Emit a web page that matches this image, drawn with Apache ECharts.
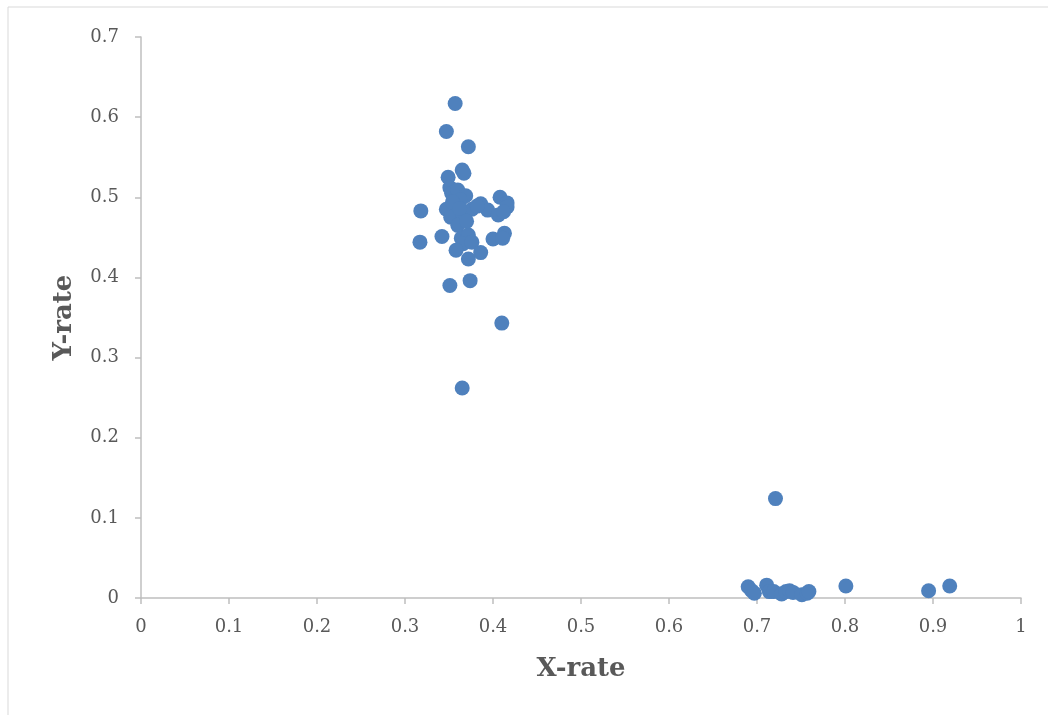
<!DOCTYPE html>
<html>
<head>
<meta charset="utf-8">
<script src="https://cdn.jsdelivr.net/npm/echarts@6/dist/echarts.min.js"></script>
<style>
  html, body { margin: 0; padding: 0; background: #fff; }
  #chart { width: 1048px; height: 715px; }
</style>
</head>
<body>
<div id="chart"></div>
<script>
// upper cluster + lower cluster
const xRate = [
  0.357, 0.347, 0.372, 0.365, 0.367, 0.349, 0.318, 0.317, 0.342, 0.347,
  0.351, 0.353, 0.360, 0.369, 0.363, 0.358, 0.352, 0.366, 0.376, 0.386,
  0.394, 0.408, 0.406, 0.416, 0.416, 0.412, 0.360, 0.364, 0.372, 0.366,
  0.376, 0.358, 0.372, 0.386, 0.400, 0.413, 0.411, 0.351, 0.374, 0.410,
  0.365, 0.354, 0.362, 0.370, 0.382,
  0.721, 0.690, 0.694, 0.697, 0.711, 0.714, 0.719, 0.728, 0.733, 0.737,
  0.741, 0.751, 0.757, 0.759, 0.801, 0.895, 0.919
]
const yRate = [
  0.617, 0.582, 0.563, 0.534, 0.530, 0.525, 0.483, 0.444, 0.451, 0.485,
  0.512, 0.505, 0.509, 0.502, 0.497, 0.478, 0.475, 0.478, 0.485, 0.492,
  0.484, 0.500, 0.478, 0.493, 0.488, 0.482, 0.465, 0.449, 0.453, 0.442,
  0.444, 0.434, 0.423, 0.431, 0.448, 0.455, 0.449, 0.390, 0.396, 0.343,
  0.262, 0.494, 0.486, 0.470, 0.489,
  0.124, 0.014, 0.009, 0.006, 0.016, 0.008, 0.008, 0.005, 0.008, 0.009,
  0.007, 0.004, 0.006, 0.008, 0.015, 0.009, 0.015
]
const xTicks = [0, 0.1, 0.2, 0.3, 0.4, 0.5, 0.6, 0.7, 0.8, 0.9, 1]
const yTicks = [0, 0.1, 0.2, 0.3, 0.4, 0.5, 0.6, 0.7]

const points = xRate.map((x, i) => [x, yRate[i]])

const chart = echarts.init(document.getElementById('chart'))

const axisCommon = {
  axisLine: { show: true, lineStyle: { color: '#bfbfbf', width: 1.5 } },
  axisTick: { show: true, length: 6, lineStyle: { color: '#bfbfbf', width: 1.5 } },
  splitLine: { show: false },
  nameLocation: 'middle',
  nameTextStyle: { fontFamily: 'DejaVu Serif', fontWeight: 'bold', fontSize: 26, color: '#595959' }
}

const tickLabel = {
  fontFamily: 'DejaVu Serif', fontSize: 18, color: '#595959',
  formatter: v => String(+v.toFixed(1))
}

chart.setOption({
  animation: false,
  grid: { left: 141, right: 27, top: 37, bottom: 117 },
  graphic: [
    { type: 'line', shape: { x1: 8, y1: 7, x2: 1048, y2: 7 }, style: { stroke: '#d9d9d9', lineWidth: 1 } },
    { type: 'line', shape: { x1: 8, y1: 7, x2: 8, y2: 715 }, style: { stroke: '#d9d9d9', lineWidth: 1 } }
  ],
  xAxis: {
    type: 'value',
    min: xTicks[0],
    max: xTicks[xTicks.length - 1],
    interval: 0.1,
    name: 'X-rate',
    nameGap: 58,
    ...axisCommon,
    axisLabel: { margin: 20, ...tickLabel }
  },
  yAxis: {
    type: 'value',
    min: yTicks[0],
    max: yTicks[yTicks.length - 1],
    interval: 0.1,
    name: 'Y-rate',
    nameGap: 64,
    ...axisCommon,
    axisLabel: { margin: 22, ...tickLabel }
  },
  series: [{
    type: 'scatter',
    data: points,
    symbolSize: 15,
    itemStyle: { color: '#4f81bd', opacity: 1 }
  }]
})
</script>
</body>
</html>
